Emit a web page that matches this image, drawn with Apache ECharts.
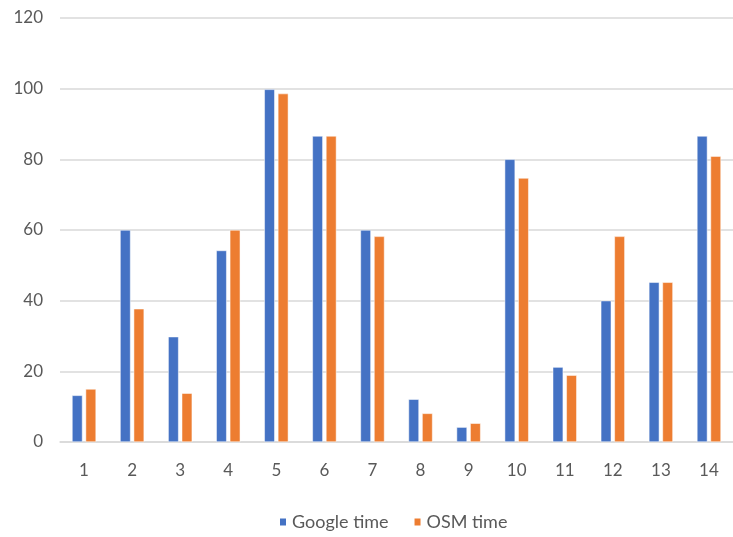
<!DOCTYPE html>
<html>
<head>
<meta charset="utf-8">
<script src="https://cdn.jsdelivr.net/npm/echarts@6/dist/echarts.min.js"></script>
<style>html,body{margin:0;padding:0;background:#fff;}#c{width:733px;height:537px;}</style>
</head>
<body>
<div id="c"></div>
<script>
const categories = ['1','2','3','4','5','6','7','8','9','10','11','12','13','14'];
const googleTime = [13.2, 60, 29.8, 54.2, 99.8, 86.6, 60, 12.1, 4.2, 80, 21.2, 40, 45.2, 86.6];
const osmTime = [15, 37.7, 13.8, 60, 98.6, 86.6, 58.2, 8.1, 5.3, 74.7, 18.9, 58.2, 45.2, 80.9];
const seriesNames = ['Google time', 'OSM time'];

const chart = echarts.init(document.getElementById('c'), null, {renderer: 'canvas'});
const font = 'Lato, "Open Sans", sans-serif';
chart.setOption({
  animation: false,
  backgroundColor: '#ffffff',
  textStyle: {fontFamily: font},
  grid: {left: 60, right: 0, top: 18, bottom: 95, containLabel: false},
  legend: {
    data: seriesNames,
    bottom: 1,
    left: 273,
    itemWidth: 8,
    itemHeight: 9,
    itemGap: 24,
    icon: 'rect',
    textStyle: {fontSize: 18, color: '#595959', fontFamily: font}
  },
  xAxis: {
    type: 'category',
    data: categories,
    axisLine: {lineStyle: {color: '#d9d9d9', width: 1.5}},
    axisTick: {show: false},
    axisLabel: {color: '#595959', fontSize: 17, margin: 20, fontFamily: font}
  },
  yAxis: {
    type: 'value',
    min: 0, max: 120, interval: 20,
    axisLine: {show: false},
    axisTick: {show: false},
    splitLine: {lineStyle: {color: '#d9d9d9', width: 1.5}},
    axisLabel: {color: '#595959', fontSize: 17, margin: 17, fontFamily: font}
  },
  series: [
    {name: seriesNames[0], type: 'bar', data: googleTime, barGap: '30%', barCategoryGap: '50%',
     itemStyle: {color: '#4472C4', borderColor: '#ffffff', borderWidth: 0.5}},
    {name: seriesNames[1], type: 'bar', data: osmTime, barGap: '30%', barCategoryGap: '50%',
     itemStyle: {color: '#ED7D31', borderColor: '#ffffff', borderWidth: 0.5}}
  ]
});
</script>
</body>
</html>
